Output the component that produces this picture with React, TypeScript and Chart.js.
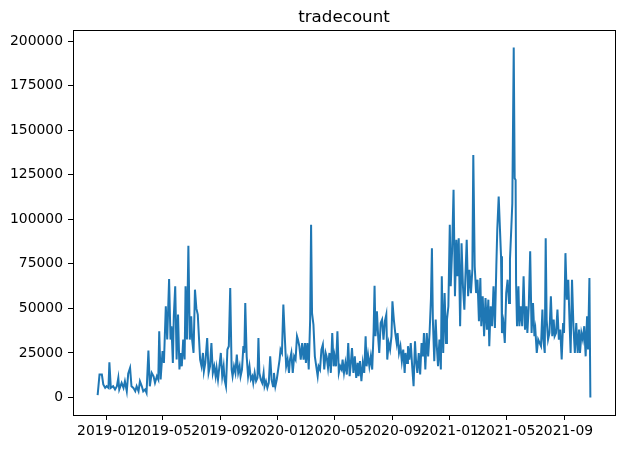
import React, { useEffect, useRef } from "react";
import { Chart, registerables } from "chart.js";

Chart.register(...registerables);

const TITLE = "tradecount";
const START_DATE = "2018-12-14";

// days since START_DATE
const dayOffsets = [
  0, 4, 9, 12, 16, 19, 23, 25, 28, 33, 37, 41, 44, 46, 51, 55, 58, 62, 65, 69, 72, 76, 80, 83, 87, 90, 94, 97,
  101, 104, 108, 111, 115, 119, 122, 126, 129, 131, 134, 138, 141, 145, 148, 152, 155, 157, 160, 162, 165, 168,
  171, 174, 177, 179, 182, 185, 187, 190, 193, 196, 199, 201, 204, 207, 210, 213, 215, 218, 221, 224, 226, 229,
  233, 236, 239, 242, 245, 248, 251, 253, 256, 259, 262, 265, 268, 270, 273, 276, 279, 282, 285, 287, 290, 293,
  296, 299, 302, 304, 307, 310, 312, 314, 317, 320, 323, 326, 329, 331, 334, 337, 340, 342, 344, 347, 350, 353,
  355, 358, 361, 364, 367, 370, 373, 375, 378, 381, 384, 387, 389, 392, 395, 398, 401, 404, 407, 409, 412, 415,
  418, 421, 424, 426, 429, 432, 435, 438, 441, 443, 446, 449, 452, 454, 456, 459, 462, 465, 468, 470, 473, 476,
  479, 482, 485, 487, 490, 493, 496, 499, 502, 504, 507, 510, 513, 516, 519, 521, 524, 527, 530, 533, 536, 538,
  541, 544, 547, 550, 553, 555, 558, 561, 564, 567, 570, 572, 575, 578, 581, 584, 587, 589, 591, 594, 597, 599,
  602, 605, 608, 611, 614, 616, 619, 622, 625, 627, 630, 633, 636, 638, 641, 644, 647, 650, 653, 655, 658, 660,
  663, 666, 669, 672, 675, 677, 680, 683, 686, 689, 692, 694, 697, 700, 703, 706, 709, 711, 713, 716, 719, 721,
  724, 727, 730, 732, 735, 738, 741, 743, 746, 749, 751, 754, 757, 760, 763, 765, 768, 771, 774, 777, 780, 782,
  785, 788, 791, 794, 797, 799, 802, 805, 808, 811, 814, 816, 819, 822, 825, 828, 831, 833, 836, 839, 842, 845,
  848, 850, 853, 858, 860, 863, 866, 869, 872, 875, 877, 880, 882, 885, 887, 889, 890, 892, 895, 897, 900, 903,
  906, 909, 912, 914, 917, 920, 923, 926, 929, 931, 934, 937, 940, 943, 946, 948, 951, 953, 955, 958, 961, 964,
  967, 970, 972, 975, 978, 981, 984, 987, 990, 992, 995, 998, 1001, 1004, 1006, 1009, 1012, 1015, 1018, 1021,
  1024, 1026, 1029, 1032, 1035, 1038, 1041, 1043, 1046, 1048,
];

const tradecount = [
  1300, 12900, 12900, 7300, 5400, 6300, 5400, 19800, 5400, 6300, 4500, 6300, 11000, 4500, 8200, 5400, 9100, 3500,
  13300, 16600, 6300, 5400, 3500, 6300, 3500, 9100, 6300, 3500, 4500, 2600, 26300, 6300, 13800, 11900, 8200,
  11900, 10100, 37200, 10100, 26000, 19400, 51200, 32500, 66500, 32500, 40000, 19400, 45600, 62400, 21300, 46500,
  15700, 25000, 17500, 32500, 21300, 62400, 32500, 85100, 32500, 45600, 32500, 25000, 60500, 50000, 46500, 36200,
  21300, 17500, 25000, 14700, 19400, 33400, 13800, 17500, 30600, 13800, 17500, 11900, 16600, 10100, 17500, 25000,
  11900, 17500, 10100, 6300, 26900, 28800, 61400, 15700, 11900, 17500, 13800, 24100, 13800, 17500, 11900, 15700,
  28800, 25000, 53000, 23100, 11900, 17500, 10100, 11900, 8200, 13800, 9100, 11000, 33400, 13800, 10100, 8200,
  13800, 6300, 9100, 5400, 8200, 23100, 10100, 6300, 13800, 6300, 10100, 15700, 21300, 26900, 25000, 52100, 34400,
  17500, 21300, 13800, 21300, 25000, 13800, 23100, 21300, 34400, 32500, 28800, 21300, 30600, 21300, 30600, 19400,
  30600, 15700, 43700, 96900, 47400, 40900, 23100, 17500, 12000, 17500, 15700, 26900, 29700, 15700, 25000, 23100,
  16600, 25000, 13800, 36200, 17500, 23100, 17500, 37200, 13800, 17500, 15700, 21300, 13800, 19400, 12900, 30600,
  12000, 17500, 27800, 13800, 23100, 11000, 19400, 12000, 20400, 9100, 19400, 13800, 34400, 17500, 24100, 17500,
  23100, 15700, 37200, 62700, 34400, 48400, 32500, 25000, 41800, 43700, 32500, 42800, 46500, 21300, 30600, 26900,
  34400, 54000, 43700, 36200, 30600, 36200, 25000, 28800, 20400, 26900, 13800, 25000, 19400, 28800, 21300, 30600,
  17500, 6300, 31600, 21300, 13800, 25000, 12900, 30600, 23100, 36200, 15700, 36200, 23100, 36200, 55800, 83800,
  43700, 20400, 43700, 30600, 17500, 32500, 15700, 68000, 25000, 58600, 30600, 43700, 51200, 96900, 62400, 82900,
  116500, 56800, 88500, 68000, 89400, 40000, 86600, 62400, 49300, 66100, 88500, 56800, 71700, 58600, 71700,
  136100, 73600, 58600, 66100, 42800, 67000, 40000, 56800, 34400, 55800, 38100, 54900, 28800, 51200, 40000, 62400,
  39000, 73600, 94100, 112800, 79200, 36200, 41800, 30600, 58600, 66100, 53000, 77300, 96000, 109000, 196400,
  123000, 122100, 64200, 40000, 62400, 40000, 51200, 40000, 68000, 38100, 51200, 36200, 51200, 82000, 36200, 53000,
  34400, 38100, 25000, 32500, 30600, 28800, 49300, 32500, 25000, 89400, 43700, 32500, 36200, 56800, 34400, 43700,
  34400, 36200, 49300, 32500, 38100, 21300, 41800, 36200, 81000, 54900, 66100, 40000, 25000, 66100, 40000, 25000,
  41800, 25000, 38100, 25000, 36200, 32500, 40000, 23100, 45600, 26900, 67000, 0,
];

const xTickLabels = ["2019-01", "2019-05", "2019-09", "2020-01", "2020-05", "2020-09", "2021-01", "2021-05", "2021-09"];
const yTickValues = [0, 25000, 50000, 75000, 100000, 125000, 150000, 175000, 200000];

const LINE_COLOR = "#1f77b4";
const FONT = "'DejaVu Sans', sans-serif";

function monthLabelToDay(label: string): number {
  const [y, m] = label.split("-").map(Number);
  const s = Date.parse(START_DATE + "T00:00:00Z");
  return Math.round((Date.UTC(y, m - 1, 1) - s) / 86400000);
}

const framePlugin = {
  id: "mplFrame",
  afterDraw(chart: any) {
    const { ctx, chartArea } = chart;
    const { left, right, top, bottom } = chartArea;
    ctx.save();
    ctx.strokeStyle = "#000";
    ctx.lineWidth = 1;
    ctx.strokeRect(Math.round(left) + 0.5, Math.round(top) + 0.5, Math.round(right - left), Math.round(bottom - top));
    ctx.fillStyle = "#000";
    ctx.font = `16.7px ${FONT}`;
    ctx.textAlign = "center";
    ctx.textBaseline = "alphabetic";
    ctx.fillText(TITLE, (left + right) / 2, top - 8);
    ctx.restore();
  },
};

export default function App() {
  const canvasRef = useRef<HTMLCanvasElement | null>(null);

  useEffect(() => {
    const canvas = canvasRef.current;
    if (!canvas) return;
    const points = dayOffsets.map((d, i) => ({ x: d, y: tradecount[i] }));
    const xLo = Math.min(...dayOffsets);
    const xHi = Math.max(...dayOffsets);
    const yLo = Math.min(...tradecount);
    const yHi = Math.max(...tradecount);
    const xPad = (xHi - xLo) * 0.05;
    const yPad = (yHi - yLo) * 0.05;
    const xTickDays = xTickLabels.map(monthLabelToDay);

    const chart = new Chart(canvas, {
      type: "line",
      data: {
        datasets: [
          {
            data: points,
            borderColor: LINE_COLOR,
            borderWidth: 2,
            pointRadius: 0,
            tension: 0,
            fill: false,
          },
        ],
      },
      options: {
        responsive: false,
        animation: false,
        layout: { padding: { top: 30, right: 10, left: 0, bottom: 0 } },
        plugins: {
          legend: { display: false },
          tooltip: { enabled: false },
          title: { display: false },
        },
        scales: {
          x: {
            type: "linear",
            min: xLo - xPad,
            max: xHi + xPad,
            afterBuildTicks: (scale: any) => {
              scale.ticks = xTickDays.map((v) => ({ value: v }));
            },
            afterFit: (scale: any) => {
              scale.height = 34;
            },
            ticks: {
              autoSkip: false,
              maxRotation: 0,
              minRotation: 0,
              padding: 3,
              color: "#000",
              font: { family: FONT, size: 13.9 },
              callback: (_v: any, i: number) => xTickLabels[i],
            },
            grid: { display: true, drawOnChartArea: false, drawTicks: true, tickLength: 5, color: "#000", lineWidth: 1 },
            border: { display: false },
          },
          y: {
            type: "linear",
            min: yLo - yPad,
            max: yHi + yPad,
            afterBuildTicks: (scale: any) => {
              scale.ticks = yTickValues.map((v) => ({ value: v }));
            },
            afterFit: (scale: any) => {
              scale.width = 73;
            },
            ticks: {
              autoSkip: false,
              padding: 5,
              color: "#000",
              font: { family: FONT, size: 13.9 },
              callback: (v: any) => String(v),
            },
            grid: { display: true, drawOnChartArea: false, drawTicks: true, tickLength: 5, color: "#000", lineWidth: 1 },
            border: { display: false },
          },
        },
      },
      plugins: [framePlugin],
    });
    return () => chart.destroy();
  }, []);

  return (
    <div style={{ position: "absolute", left: 0, top: 0, width: 625, height: 449, background: "#fff" }}>
      <canvas ref={canvasRef} width={625} height={449} style={{ display: "block" }} />
    </div>
  );
}
